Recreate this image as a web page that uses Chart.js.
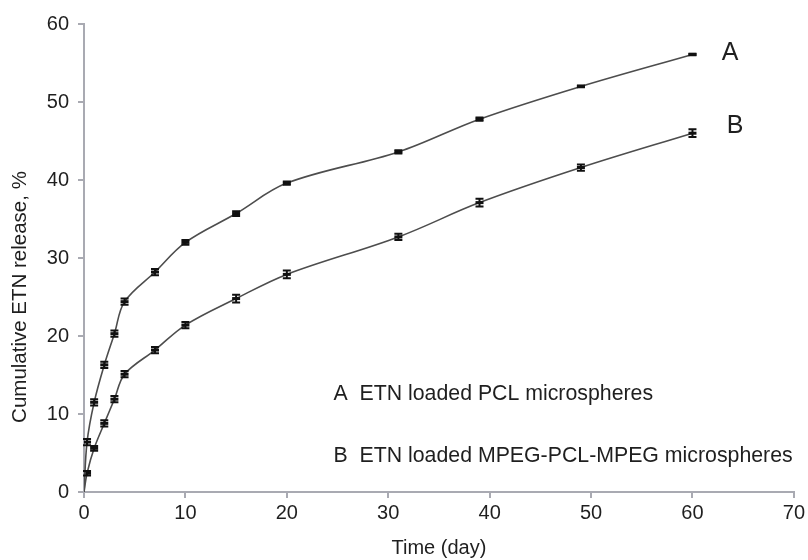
<!DOCTYPE html>
<html>
<head>
<meta charset="utf-8">
<script src="https://cdn.jsdelivr.net/npm/chart.js@4"></script>
<style>
  html, body { margin: 0; padding: 0; background: #ffffff; }
  #wrap { width: 808px; height: 560px; position: relative; }
</style>
</head>
<body>
<div id="wrap"><canvas id="chart" width="808" height="560"></canvas></div>
<script>
// Release time points (day)
const daysA = [0, 0.3, 1, 2, 3, 4, 7, 10, 15, 20, 31, 39, 49, 60];
const daysB = [0, 0.3, 1, 2, 3, 4, 7, 10, 15, 20, 31, 39, 49, 60];

// Cumulative ETN release (%)
const releaseA = [0, 6.4, 11.5, 16.3, 20.3, 24.4, 28.2, 32.0, 35.7, 39.6, 43.6, 47.8, 52.0, 56.1];
const releaseB = [0, 2.4, 5.6, 8.8, 11.9, 15.1, 18.2, 21.4, 24.8, 27.9, 32.7, 37.1, 41.6, 46.0];

// Standard deviation of each measurement (%)
const errA = [0, 0.4, 0.4, 0.4, 0.4, 0.4, 0.4, 0.3, 0.3, 0.2, 0.2, 0.2, 0.1, 0.1];
const errB = [0, 0.3, 0.3, 0.4, 0.4, 0.4, 0.4, 0.4, 0.5, 0.5, 0.4, 0.5, 0.4, 0.5];

// Axis ticks
const xTicks = [0, 10, 20, 30, 40, 50, 60, 70];
const yTicks = [0, 10, 20, 30, 40, 50, 60];

// Series, axis and note labels
const seriesNames = ['A', 'B'];
const noteTexts = ['A  ETN loaded PCL microspheres', 'B  ETN loaded MPEG-PCL-MPEG microspheres'];
const xTitle = 'Time (day)';
const yTitle = 'Cumulative ETN release, %';

const FONT = '"Liberation Sans", Arial, Helvetica, sans-serif';
const AXIS_COLOR = '#a9aab2';
const TEXT_COLOR = '#1f1f1f';

function toPoints(xs, ys) {
  return xs.map((x, i) => ({ x: x, y: ys[i] }));
}

// Draws vertical error bars with caps for every point
const errorBarPlugin = {
  id: 'errorBars',
  afterDatasetsDraw(chart, args, opts) {
    const ctx = chart.ctx;
    const xs = chart.scales.x, ys = chart.scales.y;
    ctx.save();
    ctx.strokeStyle = opts.color;
    ctx.lineWidth = opts.lineWidth;
    chart.data.datasets.forEach((ds) => {
      const errs = ds.errors || [];
      ds.data.forEach((p, i) => {
        const e = errs[i];
        if (!e) return;
        const px = xs.getPixelForValue(p.x);
        const top = ys.getPixelForValue(p.y + e);
        const bot = ys.getPixelForValue(p.y - e);
        const w = opts.capHalf;
        ctx.beginPath();
        ctx.moveTo(px, top); ctx.lineTo(px, bot);
        ctx.moveTo(px - w, top); ctx.lineTo(px + w, top);
        ctx.moveTo(px - w, bot); ctx.lineTo(px + w, bot);
        ctx.stroke();
      });
    });
    ctx.restore();
  }
};

// Free text placed at data coordinates (optionally rotated)
const notesPlugin = {
  id: 'notes',
  afterDraw(chart, args, opts) {
    const ctx = chart.ctx;
    const xs = chart.scales.x, ys = chart.scales.y;
    ctx.save();
    ctx.fillStyle = TEXT_COLOR;
    ctx.textBaseline = 'middle';
    opts.items.forEach((it) => {
      ctx.save();
      ctx.font = it.size + 'px ' + FONT;
      ctx.textAlign = it.align || 'left';
      const px = it.px !== undefined ? it.px : xs.getPixelForValue(it.x);
      const py = ys.getPixelForValue(it.y);
      ctx.translate(px, py);
      if (it.rotate) ctx.rotate(it.rotate);
      ctx.fillText(it.text, 0, 0);
      ctx.restore();
    });
    ctx.restore();
  }
};

const lineStyle = {
  borderColor: '#4d4d4d',
  borderWidth: 1.6,
  tension: 0.35,
  fill: false,
  pointStyle: 'line',
  pointRadius: (c) => (c.raw && c.raw.y === 0 ? 0 : 4),
  pointBorderWidth: 3,
  pointBorderColor: '#111111',
  pointBackgroundColor: '#111111',
  pointHoverRadius: 4
};

new Chart(document.getElementById('chart'), {
  type: 'line',
  data: {
    datasets: [
      Object.assign({ label: seriesNames[0], data: toPoints(daysA, releaseA), errors: errA }, lineStyle),
      Object.assign({ label: seriesNames[1], data: toPoints(daysB, releaseB), errors: errB }, lineStyle)
    ]
  },
  options: {
    responsive: false,
    animation: false,
    events: [],
    layout: { padding: { top: 24, right: 12, left: 0, bottom: 0 } },
    plugins: {
      legend: { display: false },
      tooltip: { enabled: false },
      errorBars: { color: '#111111', lineWidth: 2, capHalf: 4 },
      notes: {
        items: [
          { text: seriesNames[0], x: 63.7, y: 56.3, size: 25, align: 'center' },
          { text: seriesNames[1], x: 64.2, y: 46.9, size: 25, align: 'center' },
          { text: noteTexts[0], x: 24.6, y: 12.5, size: 21.3 },
          { text: noteTexts[1], x: 24.6, y: 4.6, size: 21.3 },
          { text: yTitle, px: 20, y: 25.0, size: 20.5, align: 'center', rotate: -Math.PI / 2 }
        ]
      }
    },
    scales: {
      x: {
        type: 'linear',
        min: 0,
        max: 70,
        afterBuildTicks: (s) => { s.ticks = xTicks.map((v) => ({ value: v })); },
        afterFit: (s) => { s.height = 68; },
        grid: { drawOnChartArea: false, drawTicks: true, tickLength: 6, color: AXIS_COLOR, lineWidth: 2 },
        border: { display: true, color: AXIS_COLOR, width: 2 },
        ticks: { color: TEXT_COLOR, font: { family: FONT, size: 20 }, padding: 3, maxRotation: 0 },
        title: { display: true, text: xTitle, color: TEXT_COLOR, font: { family: FONT, size: 20 }, padding: { top: 2, bottom: 0 } }
      },
      y: {
        type: 'linear',
        min: 0,
        max: 60,
        afterBuildTicks: (s) => { s.ticks = yTicks.map((v) => ({ value: v })); },
        afterFit: (s) => { s.width = 84; },
        grid: { drawOnChartArea: false, drawTicks: true, tickLength: 6, color: AXIS_COLOR, lineWidth: 2 },
        border: { display: true, color: AXIS_COLOR, width: 2 },
        ticks: { color: TEXT_COLOR, font: { family: FONT, size: 20 }, padding: 9 },
        title: { display: false }
      }
    }
  },
  plugins: [errorBarPlugin, notesPlugin]
});
</script>
</body>
</html>
